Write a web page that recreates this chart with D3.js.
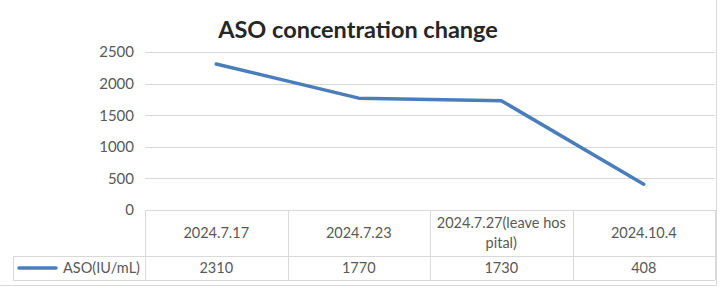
<!DOCTYPE html>
<html>
<head>
<meta charset="utf-8">
<script src="https://cdn.jsdelivr.net/npm/d3@7"></script>
<style>
  body { margin: 0; background: #fff; }
  svg { display: block; font-family: Lato, "Noto Sans", sans-serif; }
</style>
</head>
<body>
<div class="chart"></div>
<script>
// data
var categories = ["2024.7.17", "2024.7.23", "2024.7.27(leave hospital)", "2024.10.4"];
var headerLines = [["2024.7.17"], ["2024.7.23"], ["2024.7.27(leave hos", "pital)"], ["2024.10.4"]];
var asoValues = [2310, 1770, 1730, 408];
var seriesName = "ASO(IU/mL)";
var yTicks = [0, 500, 1000, 1500, 2000, 2500];

function init() {
    var w = 720, h = 287;
    var left = 145, right = 715, top = 52, bottom = 210;
    var headerBottom = 256, rowBottom = 280, legendLeft = 13;

    var svg = d3.select(".chart").append("svg")
        .attr("width", w)
        .attr("height", h);

    var xScale = d3.scaleBand()
        .domain(categories)
        .range([left, right])
        .padding(0);

    var yScale = d3.scaleLinear()
        .domain([0, 2500])
        .range([bottom, top]);

    // outer frame edges
    svg.append("line").attr("x1", 716.5).attr("x2", 716.5).attr("y1", 0).attr("y2", 285)
        .attr("stroke", "#d9d9d9");
    svg.append("line").attr("x1", 0).attr("x2", 716.5).attr("y1", 285.5).attr("y2", 285.5)
        .attr("stroke", "#d9d9d9");

    // gridlines
    svg.append("g").selectAll("line")
        .data(yTicks.filter(function(d) { return d > 0; }))
        .enter().append("line")
        .attr("x1", left).attr("x2", right)
        .attr("y1", function(d) { return Math.round(yScale(d)) + 0.5; })
        .attr("y2", function(d) { return Math.round(yScale(d)) + 0.5; })
        .attr("stroke", "#d9d9d9");

    // y axis labels
    var yAxis = d3.axisLeft(yScale).tickValues(yTicks).tickFormat(d3.format("d")).tickSize(0).tickPadding(11);
    var gy = svg.append("g")
        .attr("transform", "translate(" + left + ",0)")
        .call(yAxis);
    gy.select(".domain").remove();
    gy.selectAll("text")
        .style("font-family", "Lato, sans-serif")
        .style("font-size", "15px")
        .attr("fill", "#595959");

    // data table grid
    var grid = svg.append("g").attr("stroke", "#d9d9d9").attr("fill", "none");
    var colEdges = categories.map(function(c) { return xScale(c); }).concat([right]);
    colEdges.forEach(function(x) {
        grid.append("line").attr("x1", Math.round(x) + 0.5).attr("x2", Math.round(x) + 0.5)
            .attr("y1", bottom).attr("y2", rowBottom);
    });
    grid.append("line").attr("x1", left).attr("x2", right).attr("y1", bottom + 0.5).attr("y2", bottom + 0.5);
    grid.append("line").attr("x1", legendLeft).attr("x2", right).attr("y1", headerBottom + 0.5).attr("y2", headerBottom + 0.5);
    grid.append("line").attr("x1", legendLeft).attr("x2", right).attr("y1", rowBottom + 0.5).attr("y2", rowBottom + 0.5);
    grid.append("line").attr("x1", legendLeft + 0.5).attr("x2", legendLeft + 0.5).attr("y1", headerBottom).attr("y2", rowBottom);

    // header labels
    var headerMid = (bottom + headerBottom) / 2;
    categories.forEach(function(c, i) {
        var lines = headerLines[i];
        var t = svg.append("text")
            .attr("text-anchor", "middle")
            .attr("fill", "#595959")
            .style("font-size", "14.5px");
        lines.forEach(function(l, j) {
            t.append("tspan")
                .attr("x", xScale(c) + xScale.bandwidth() / 2)
                .attr("y", headerMid + 5 + (j - (lines.length - 1) / 2) * 20)
                .text(l);
        });
    });

    // value row
    var rowMid = (headerBottom + rowBottom) / 2;
    svg.append("g").selectAll("text")
        .data(asoValues)
        .enter().append("text")
        .attr("x", function(d, i) { return xScale(categories[i]) + xScale.bandwidth() / 2; })
        .attr("y", rowMid + 5)
        .attr("text-anchor", "middle")
        .attr("fill", "#595959")
        .style("font-size", "14.5px")
        .text(function(d) { return d; });

    // legend key in the table
    svg.append("line")
        .attr("x1", 19).attr("x2", 56)
        .attr("y1", rowMid).attr("y2", rowMid)
        .attr("stroke", "#4a7ebb")
        .attr("stroke-width", 3.5)
        .attr("stroke-linecap", "round");
    svg.append("text")
        .attr("x", 63).attr("y", rowMid + 5)
        .attr("fill", "#595959")
        .style("font-size", "14.5px")
        .text(seriesName);

    // line
    var line = d3.line()
        .x(function(d, i) { return xScale(categories[i]) + xScale.bandwidth() / 2; })
        .y(function(d) { return yScale(d); });

    svg.append("path")
        .datum(asoValues)
        .attr("d", line)
        .attr("fill", "none")
        .attr("stroke", "#4a7ebb")
        .attr("stroke-width", 3.5)
        .attr("stroke-linecap", "round")
        .attr("stroke-linejoin", "round");

    // title
    svg.append("text")
        .attr("x", 358)
        .attr("y", 38)
        .attr("text-anchor", "middle")
        .attr("fill", "#262626")
        .style("font-size", "23.5px")
        .style("font-weight", "bold")
        .text("ASO concentration change");
}

window.onload = init;
</script>
</body>
</html>
